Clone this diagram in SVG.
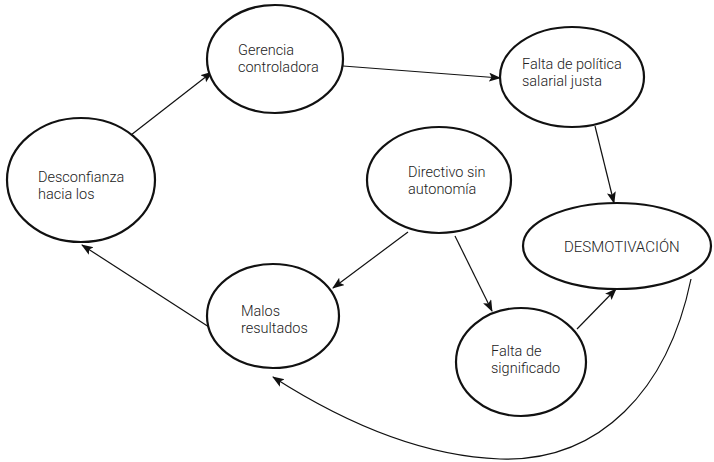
<svg xmlns="http://www.w3.org/2000/svg" width="714" height="462" viewBox="0 0 714 462">
  <style>
    .node ellipse { fill: #fff; stroke: #111; stroke-width: 2.2; }
    .node text { font-family: Roboto, "Liberation Sans", Arial, sans-serif; font-weight: 300; font-size: 14.5px; fill: #222; }
    .edge { fill: none; stroke: #111; stroke-width: 1.2; marker-end: url(#arrow); }
  </style>
  <defs>
    <marker id="arrow" markerUnits="userSpaceOnUse" markerWidth="12" markerHeight="10" refX="11" refY="4.5" orient="auto">
      <path d="M0,0 L12,4.5 L0,9 L2.5,4.5 Z" fill="#111"/>
    </marker>
  </defs>
  <rect width="714" height="462" fill="#fff"/>

  <g id="connectors">
    <line class="edge" x1="131" y1="135" x2="212" y2="72"/>
    <line class="edge" x1="343" y1="66" x2="500" y2="78"/>
    <line class="edge" x1="595" y1="126" x2="614" y2="203"/>
    <line class="edge" x1="408" y1="232" x2="333" y2="288"/>
    <line class="edge" x1="455" y1="236" x2="492" y2="311"/>
    <line class="edge" x1="577" y1="329" x2="616" y2="289"/>
    <line class="edge" x1="209" y1="327" x2="82" y2="245"/>
    <path class="edge" d="M691,279 C668,390 600,462 500,459 C420,456 340,420 273,377"/>
  </g>

  <g id="gerencia" class="node">
    <ellipse cx="275" cy="59" rx="68" ry="54"/>
    <text x="238" y="54.5">Gerencia<tspan x="238" dy="17">controladora</tspan></text>
  </g>
  <g id="politica" class="node">
    <ellipse cx="572" cy="77" rx="72" ry="50"/>
    <text x="522" y="68.5">Falta de política<tspan x="522" dy="17">salarial justa</tspan></text>
  </g>
  <g id="desconfianza" class="node">
    <ellipse cx="81" cy="180" rx="74" ry="62"/>
    <text x="38" y="181.5">Desconfianza<tspan x="38" dy="17">hacia los</tspan></text>
  </g>
  <g id="directivo" class="node">
    <ellipse cx="439" cy="180" rx="72" ry="53"/>
    <text x="408" y="176.5">Directivo sin<tspan x="408" dy="17">autonomía</tspan></text>
  </g>
  <g id="desmotivacion" class="node">
    <ellipse cx="617" cy="246" rx="94" ry="43"/>
    <text x="564" y="252" style="font-size:15px">DESMOTIVACIÓN</text>
  </g>
  <g id="malos" class="node">
    <ellipse cx="273" cy="316" rx="66" ry="52"/>
    <text x="241" y="316">Malos<tspan x="241" dy="17">resultados</tspan></text>
  </g>
  <g id="significado" class="node">
    <ellipse cx="521" cy="362" rx="65" ry="54"/>
    <text x="491" y="355.5">Falta de<tspan x="491" dy="17">significado</tspan></text>
  </g>
</svg>
